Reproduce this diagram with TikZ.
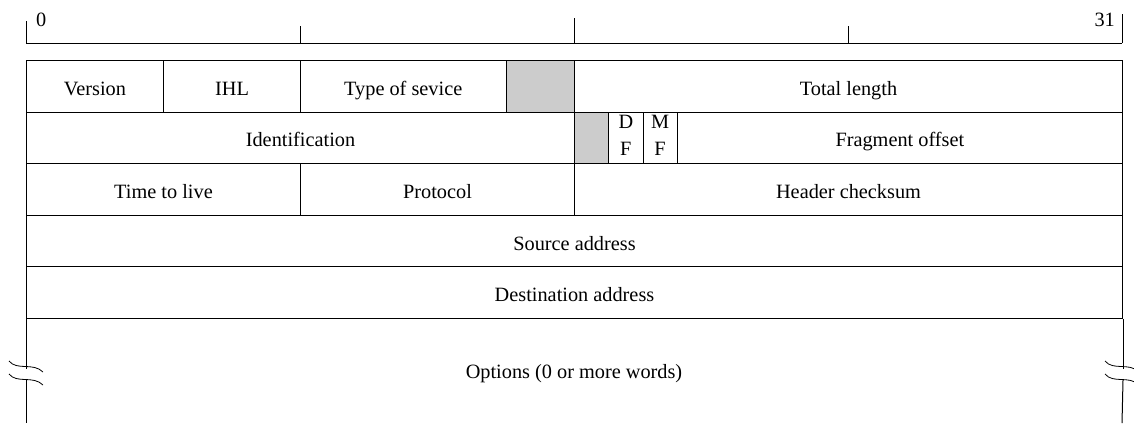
\documentclass[tikz,border=0pt]{standalone}
\usepackage{fontspec}
\setmainfont{Liberation Serif}
\begin{document}
% one unit = 1pt, y grows downward; one header bit = 34.25pt
\def\bw{34.25pt}
\newcommand\fld[6][]{%
  \node[field,#1,minimum width=#4*\bw] (#2) at ({26+#3*34.25},#5) {#6};}
\newcommand\brk[1]{%
  \draw[wave] ({#1-17},361) .. controls ({#1-9},371) and ({#1+7},362) .. ({#1+17},372);
  \draw[wave] ({#1-17},374) .. controls ({#1-9},384) and ({#1+7},375) .. ({#1+17},385);}
\begin{tikzpicture}[x=1pt,y=-1pt,
  every node/.style={font=\fontsize{20.3}{27}\selectfont},
  field/.style={draw,line width=1pt,inner sep=0pt,anchor=north west,
    minimum height=51.6pt,text height=20pt,text depth=2pt},
  pad/.style={fill=black!20},
  rule/.style={line width=1pt},
  wave/.style={line width=0.8pt}]
\useasboundingbox (0,0) rectangle (1134,423);

% bit ruler
\coordinate (b0) at (26,43);
\coordinate (b32) at (1122,43);
\draw[rule] (b0) -- (b32);
\draw[rule] (b0) -- ++(0,-22);
\draw[rule] (300,43) -- (300,26);
\draw[rule] (574,43) -- (574,18);
\draw[rule] (848,43) -- (848,26);
\draw[rule] (b32) -- ++(0,-29);
\node[anchor=base west,inner sep=0pt] (n0) at (36,27) {0};
\node[anchor=base east,inner sep=0pt] (n31) at (1115,27) {31};

% header words
\fld{ver}{0}{4}{60}{Version}
\fld{ihl}{4}{4}{60}{IHL}
\fld{tos}{8}{6}{60}{Type of sevice}
\fld[pad]{res1}{14}{2}{60}{}
\fld{tlen}{16}{16}{60}{Total length}

\fld{ident}{0}{16}{111.6}{Identification}
\fld[pad]{res2}{16}{1}{111.6}{}
\fld{df}{17}{1}{111.6}{}
\fld{mf}{18}{1}{111.6}{}
\fld{frag}{19}{13}{111.6}{Fragment offset}
\path (df.center) ++(0,-9.5) node[anchor=base] (dfa) {D} ++(0,27) node[anchor=base] (dfb) {F};
\path (mf.center) ++(0,-9.5) node[anchor=base] (mfa) {M} ++(0,27) node[anchor=base] (mfb) {F};

\fld{ttl}{0}{8}{163.2}{Time to live}
\fld{proto}{8}{8}{163.2}{Protocol}
\fld{csum}{16}{16}{163.2}{Header checksum}

\fld{src}{0}{32}{214.8}{Source address}
\fld{dst}{0}{32}{266.4}{Destination address}

% open-ended options area
\draw[rule] (dst.south west) -- ++(0,50);
\draw[rule] (dst.south west) ++(0,61) -- (26,423);
\draw[rule] (dst.south east) -- ++(0,50);
\draw[rule] (dst.south east) ++(0,61) -- (1122,423);
\brk{26}
\brk{1122}
\node[inner sep=0pt,text height=20pt,text depth=2pt] (opt) at (574,369) {Options (0 or more words)};
\end{tikzpicture}
\end{document}
